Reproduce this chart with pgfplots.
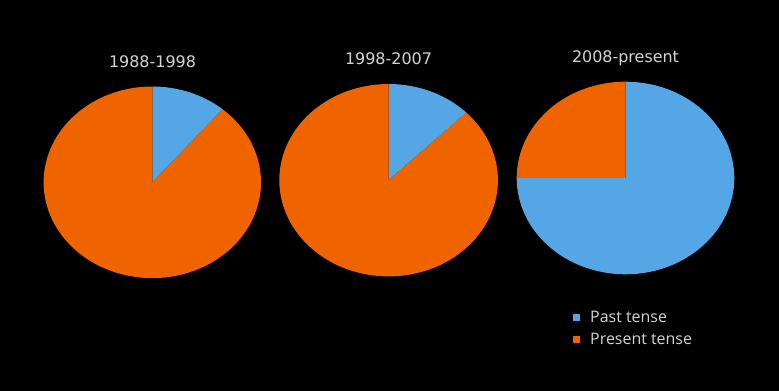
\documentclass[border=0pt]{standalone}
\usepackage{fontspec}
\setmainfont{Open Sans}
\newfontfamily\titlefont{DejaVu Sans}
\usepackage{pgfplots}
\usepackage{pgfplotstable}
\pgfplotsset{compat=1.18}
\definecolor{pastblue}{RGB}{85,166,228}
\definecolor{presorange}{RGB}{240,100,0}
\definecolor{txtgrey}{RGB}{212,212,212}

% share (%) of each tense per period
\pgfplotstableread{
period past present
1 11.2 88.8
2 12.6 87.4
3 75.0 25.0
}\piedata

\pgfplotstablegetelem{0}{past}\of\piedata \let\pastA\pgfplotsretval
\pgfplotstablegetelem{0}{present}\of\piedata \let\presA\pgfplotsretval
\pgfplotstablegetelem{1}{past}\of\piedata \let\pastB\pgfplotsretval
\pgfplotstablegetelem{1}{present}\of\piedata \let\presB\pgfplotsretval
\pgfplotstablegetelem{2}{past}\of\piedata \let\pastC\pgfplotsretval
\pgfplotstablegetelem{2}{present}\of\piedata \let\presC\pgfplotsretval

\pgfplotsset{
  pieaxis/.style={anchor=center, scale only axis, hide axis,
    xmin=-1, xmax=1, ymin=-1, ymax=1, clip=false},
}

\begin{document}
\begin{tikzpicture}
\useasboundingbox (0,0) rectangle (779bp,391bp);
\fill[black] (0,0) rectangle (779bp,391bp);

% Pie 1
\begin{axis}[pieaxis, at={(152.3bp,208.7bp)}, width=217.4bp, height=191.6bp]
\fill[pastblue] (axis cs:0,0) -- (axis cs:0,1)
  arc[start angle=90, delta angle=-3.6*\pastA, x radius=108.7bp, y radius=95.8bp] -- cycle;
\fill[presorange] (axis cs:0,0) -- (axis cs:0,1)
  arc[start angle=90, delta angle=3.6*\presA, x radius=108.7bp, y radius=95.8bp] -- cycle;
\end{axis}

% Pie 2
\begin{axis}[pieaxis, at={(388.6bp,210.8bp)}, width=218.6bp, height=192.4bp]
\fill[pastblue] (axis cs:0,0) -- (axis cs:0,1)
  arc[start angle=90, delta angle=-3.6*\pastB, x radius=109.3bp, y radius=96.2bp] -- cycle;
\fill[presorange] (axis cs:0,0) -- (axis cs:0,1)
  arc[start angle=90, delta angle=3.6*\presB, x radius=109.3bp, y radius=96.2bp] -- cycle;
\end{axis}

% Pie 3 with legend
\begin{axis}[pieaxis, at={(625.5bp,213bp)}, width=217.6bp, height=192.6bp,
  legend style={draw=none, fill=none, text=txtgrey,
    font=\fontsize{16}{19}\selectfont, inner sep=0pt, row sep=10.8bp,
    column sep=11bp,
    nodes={inner sep=0pt, text height=11.5bp, text depth=0pt},
    at={(0.257,-0.19)}, anchor=north west},
  legend cell align=left]
\fill[pastblue] (axis cs:0,0) -- (axis cs:0,1)
  arc[start angle=90, delta angle=-3.6*\pastC, x radius=108.8bp, y radius=96.3bp] -- cycle;
\fill[presorange] (axis cs:0,0) -- (axis cs:0,1)
  arc[start angle=90, delta angle=3.6*\presC, x radius=108.8bp, y radius=96.3bp] -- cycle;
\addlegendimage{legend image code/.code={\fill[pastblue] (0bp,-3bp) rectangle (6bp,3bp);}}
\addlegendentry{Past tense}
\addlegendimage{legend image code/.code={\fill[presorange] (0bp,-3bp) rectangle (6bp,3bp);}}
\addlegendentry{Present tense}
\end{axis}

% Titles
\node[anchor=base, text=txtgrey, font=\titlefont\fontsize{16}{19}\selectfont] at (152.5bp,323.3bp) {1988-1998};
\node[anchor=base, text=txtgrey, font=\titlefont\fontsize{16}{19}\selectfont] at (388.5bp,326bp) {1998-2007};
\node[anchor=base, text=txtgrey, font=\titlefont\fontsize{16}{19}\selectfont] at (625.5bp,328.3bp) {2008-present};
\end{tikzpicture}
\end{document}
